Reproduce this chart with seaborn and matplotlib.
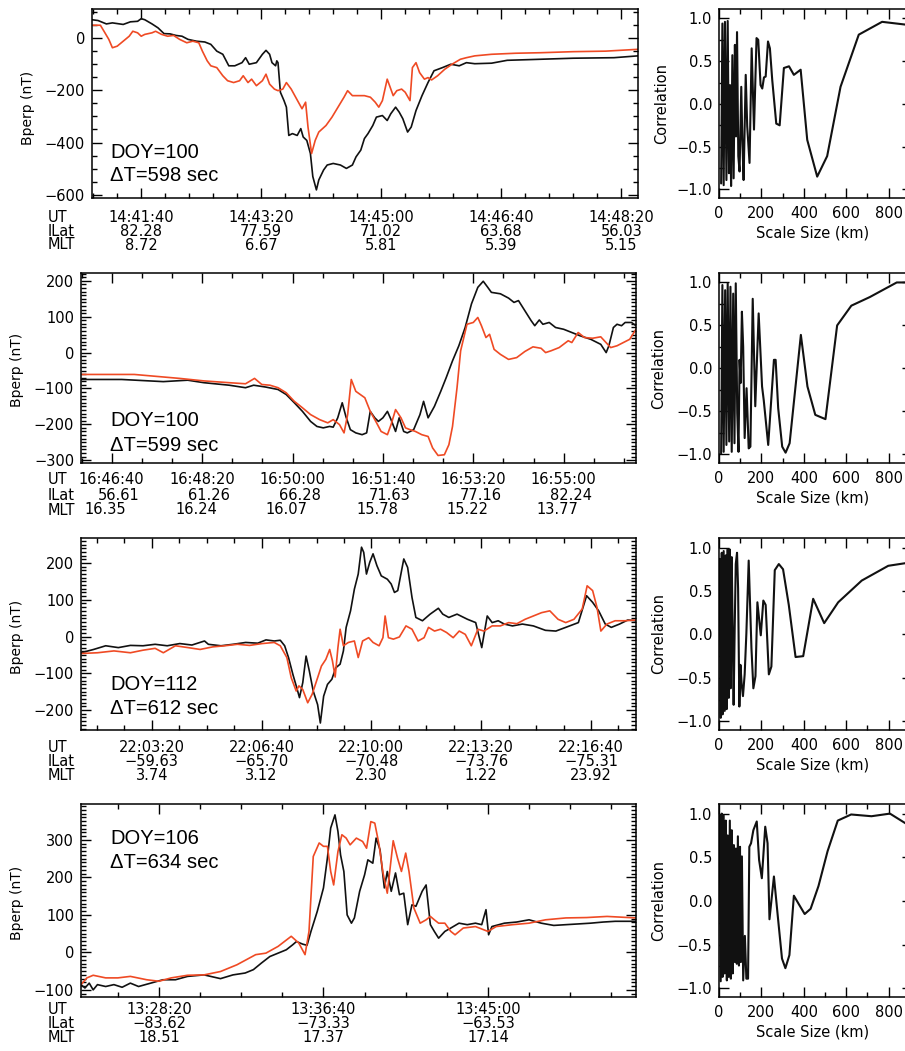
import numpy as np
import pandas as pd
import matplotlib
matplotlib.use("Agg")
import matplotlib.pyplot as plt
import matplotlib.transforms as mtransforms
from matplotlib.ticker import MultipleLocator
import seaborn as sns

# ---------------- data ----------------
# panel 1: seconds from 14:41:40
p1_black_t = [-41, -36, -29, -24, -15, -9, -3, 0, 3, 9, 14, 19, 24, 29, 34, 39, 46, 53, 58, 63,
              68, 73, 78, 84, 87, 90, 96, 101, 104, 107, 109, 112, 113, 114, 116, 119, 121, 123, 126, 130,
              133, 135, 138, 141, 143, 146, 148, 152, 155, 160, 166, 171, 176, 179, 183, 186, 189, 193, 196, 201,
              205, 208, 212, 215, 218, 222, 225, 229, 234, 239, 244, 251, 258, 265, 271, 278, 292, 305, 326, 360,
              394, 414]
p1_black_b = [69, 66, 53, 57, 51, 61, 63, 73, 69, 53, 38, 16, 15, 9, 6, -6, -13, -16, -25, -51,
              -63, -107, -107, -95, -76, -101, -95, -63, -48, -63, -95, -107, -88, -95, -208, -240, -265, -373, -366, -373,
              -347, -379, -392, -442, -530, -581, -543, -505, -486, -480, -486, -499, -486, -455, -429, -385, -366, -335, -303, -297,
              -316, -290, -265, -284, -309, -360, -341, -278, -221, -171, -126, -114, -101, -107, -95, -99, -97, -86, -83, -78,
              -76, -69]
p1_red_t = [-41, -34, -31, -27, -24, -20, -15, -10, -7, -3, 0, 3, 9, 12, 17, 22, 27, 32, 38, 43,
            48, 51, 55, 58, 63, 68, 72, 77, 82, 85, 89, 92, 96, 101, 104, 107, 111, 114, 118, 121,
            125, 128, 131, 134, 137, 139, 142, 145, 148, 154, 159, 164, 169, 172, 176, 181, 186, 191, 195, 198,
            201, 205, 207, 210, 213, 217, 220, 224, 226, 229, 232, 236, 239, 242, 247, 253, 259, 266, 271, 278,
            292, 312, 333, 360, 387, 414]
p1_red_b = [48, 48, 25, -6, -38, -32, -13, 6, 25, 19, 6, 13, 19, 25, 13, 6, 9, -6, -19, -13,
            -19, -51, -88, -107, -114, -145, -164, -171, -164, -145, -171, -158, -183, -164, -139, -177, -196, -202, -196, -171,
            -196, -221, -246, -271, -246, -341, -442, -392, -360, -335, -303, -265, -227, -202, -221, -221, -221, -227, -246, -265,
            -240, -158, -183, -221, -202, -196, -208, -240, -114, -95, -133, -158, -152, -161, -145, -120, -101, -82, -76, -69,
            -63, -59, -57, -53, -51, -44]

# panel 2: seconds from 16:46:40
p2_black_t = [-34, 11, 57, 84, 102, 130, 148, 157, 170, 184, 193, 202, 211, 220, 227, 234, 241, 245, 250, 255,
              259, 264, 270, 277, 282, 286, 291, 295, 300, 305, 309, 314, 318, 323, 327, 334, 341, 345, 350, 357,
              364, 370, 377, 384, 391, 398, 405, 411, 416, 420, 430, 439, 445, 450, 457, 464, 468, 473, 477, 484,
              491, 500, 509, 518, 530, 541, 547, 550, 555, 559, 564, 568, 575, 580]
p2_black_b = [-75, -75, -81, -77, -84, -91, -98, -91, -96, -103, -117, -140, -164, -192, -206, -210, -206, -208, -182, -140,
              -178, -215, -224, -229, -224, -164, -182, -192, -182, -164, -187, -220, -182, -220, -224, -215, -173, -136, -182, -150,
              -108, -70, -23, 19, 70, 136, 182, 199, 182, 168, 164, 152, 140, 145, 117, 89, 75, 91, 79, 84,
              70, 65, 56, 47, 37, 23, 0, 19, 70, 79, 75, 84, 84, 75]
p2_red_t = [-34, 25, 75, 102, 130, 148, 158, 166, 175, 184, 193, 202, 211, 220, 230, 239, 245, 252, 257, 261,
            265, 270, 275, 280, 286, 293, 298, 305, 309, 314, 320, 325, 330, 336, 343, 350, 355, 361, 368, 373,
            377, 382, 386, 393, 400, 405, 409, 414, 418, 423, 430, 439, 448, 457, 466, 475, 480, 486, 495, 505,
            509, 516, 523, 532, 541, 545, 552, 559, 566, 573, 580]
p2_red_b = [-61, -61, -72, -79, -84, -87, -72, -89, -91, -98, -112, -136, -154, -173, -187, -196, -187, -201, -224, -173,
            -75, -108, -117, -126, -164, -196, -220, -229, -201, -159, -182, -210, -215, -220, -229, -234, -266, -287, -285, -257,
            -206, -98, 5, 79, 84, 98, 75, 42, 51, 9, -5, -19, -14, 3, 16, 12, 0, 5, 14, 33,
            28, 56, 42, 40, 44, 33, 14, 19, 28, 37, 65]

# panel 3: seconds from 22:03:20
p3_black_t = [-129, -106, -84, -61, -39, -16, 6, 28, 51, 73, 96, 103, 126, 148, 171, 193, 208, 223, 234, 242,
              249, 257, 264, 269, 275, 281, 287, 294, 302, 307, 313, 320, 328, 335, 343, 349, 354, 362, 369, 376,
              382, 386, 391, 397, 403, 410, 418, 429, 436, 442, 448, 459, 466, 474, 481, 493, 507, 522, 530, 541,
              556, 575, 590, 601, 611, 620, 631, 642, 657, 675, 695, 717, 736, 754, 777, 792, 803, 814, 826, 837,
              852, 867, 882]
p3_black_b = [-44, -35, -25, -30, -24, -25, -21, -25, -19, -23, -12, -21, -25, -21, -16, -18, -9, -12, -10, -25,
              -57, -103, -139, -166, -125, -53, -94, -148, -185, -235, -162, -130, -116, -85, -75, -39, 25, 70, 129, 170,
              243, 229, 170, 202, 225, 193, 165, 156, 143, 120, 125, 211, 188, 106, 52, 43, 61, 77, 61, 52,
              61, 47, 38, -30, 56, 38, 43, 34, 29, 34, 29, 17, 15, 25, 38, 111, 93, 70, 34, 25,
              34, 45, 43]
p3_red_t = [-129, -99, -69, -39, -16, 6, 21, 43, 66, 88, 111, 133, 156, 178, 201, 223, 234, 246, 254, 263,
            268, 275, 284, 292, 302, 309, 317, 324, 329, 334, 339, 343, 349, 358, 369, 376, 384, 395, 403, 414,
            421, 425, 431, 440, 451, 463, 474, 485, 496, 504, 515, 526, 537, 549, 560, 571, 582, 594, 605, 620,
            635, 650, 665, 680, 695, 710, 725, 740, 754, 769, 784, 793, 803, 811, 818, 829, 844, 862, 882]
p3_red_b = [-46, -44, -39, -44, -37, -32, -44, -25, -30, -35, -28, -25, -21, -24, -19, -16, -25, -57, -112, -148,
            -134, -144, -180, -157, -112, -80, -62, -35, -66, -110, -30, 20, -25, -16, -12, -57, -12, -3, -16, -25,
            -3, 56, -3, -7, -1, 29, 20, -12, -3, 25, 15, 20, 11, -3, 15, 6, -25, 20, 15, 29,
            29, 38, 35, 47, 56, 65, 70, 47, 38, 47, 75, 138, 125, 79, 15, 34, 43, 43, 45]

# panel 4: seconds from 13:28:20
p4_black_t = [-237, -225, -212, -200, -187, -162, -137, -112, -87, -62, -25, 12, 50, 87, 137, 187, 225, 262, 287, 312,
              337, 362, 387, 406, 418, 437, 450, 462, 481, 500, 512, 522, 535, 544, 552, 562, 572, 585, 594, 610,
              625, 635, 650, 660, 672, 685, 694, 706, 719, 731, 744, 756, 769, 781, 800, 812, 825, 837, 850, 869,
              887, 912, 937, 962, 981, 994, 1002, 1012, 1050, 1087, 1125, 1162, 1200, 1237, 1275, 1312, 1350, 1387, 1450]
p4_black_b = [-86, -95, -82, -100, -86, -91, -86, -93, -82, -91, -82, -73, -73, -64, -60, -70, -60, -55, -46, -28,
              -11, -2, 7, 20, 29, 22, 19, 56, 109, 172, 252, 332, 367, 323, 260, 216, 100, 78, 92, 163,
              207, 247, 238, 305, 274, 172, 216, 163, 212, 154, 158, 74, 127, 123, 163, 180, 74, 56, 38, 56,
              65, 78, 74, 78, 74, 114, 47, 69, 78, 81, 87, 78, 72, 74, 76, 78, 81, 83, 83]
p4_red_t = [-237, -219, -200, -162, -125, -87, -37, 0, 37, 87, 137, 187, 237, 275, 294, 325, 362, 402, 425, 444,
            456, 469, 487, 500, 512, 522, 531, 544, 556, 569, 581, 600, 619, 631, 644, 656, 669, 681, 694, 712,
            725, 737, 750, 760, 775, 794, 812, 825, 837, 850, 869, 887, 900, 925, 962, 1000, 1025, 1075, 1125, 1175,
            1237, 1300, 1362, 1450]
p4_red_b = [-86, -68, -61, -68, -68, -64, -73, -77, -68, -61, -60, -51, -33, -15, -6, -2, 16, 43, 25, -6,
            56, 256, 292, 283, 283, 216, 180, 269, 314, 305, 287, 305, 296, 278, 349, 345, 287, 212, 158, 298,
            252, 216, 265, 216, 118, 78, 87, 96, 87, 78, 78, 56, 47, 65, 69, 56, 69, 74, 78, 87,
            92, 93, 96, 92]

# correlation vs scale size (km)
r1_km = [10, 16, 22, 28, 35, 41, 47, 52, 57, 63, 69, 75, 80, 85, 91, 97, 105, 110, 116, 126, 133,
         144, 154, 165, 177, 185, 196, 204, 212, 220, 231, 240, 251, 270, 286, 306, 330, 353, 385, 416, 463,
         510, 573, 659, 769, 871, 905]
r1_c = [-0.93, 0.94, -0.95, 0.96, -0.89, 0.97, -0.81, 0.22, -0.96, 0.57, -0.87, 0.69, -0.38, 0.84, -0.61, -0.79, 0.20, -0.42, -0.89, 0.34, -0.26,
        -0.69, 0.65, -0.30, 0.77, 0.75, 0.22, 0.18, 0.31, 0.32, 0.73, 0.65, 0.28, -0.23, -0.25, 0.42, 0.44, 0.34, 0.40, -0.42, -0.85,
        -0.61, 0.20, 0.81, 0.96, 0.93, 0.92]
r2_km = [10, 16, 22, 29, 35, 41, 48, 54, 60, 67, 73, 79, 86, 92, 97, 102, 108, 114, 121, 130,
         140, 148, 159, 171, 187, 203, 211, 232, 259, 267, 279, 298, 314, 333, 386, 417, 454, 502, 557, 624,
         711, 838, 905]
r2_c = [-0.99, 0.97, -0.97, 0.91, -0.89, 0.99, -0.85, 0.95, -0.97, 0.87, -0.87, 0.99, -0.52, -0.97, 0.10, -0.17, 0.66, 0.25, -0.81, -0.23,
        -0.93, -0.91, 0.81, -0.44, 0.64, -0.21, -0.37, -0.89, 0.10, 0.10, -0.46, -0.91, -0.98, -0.87, 0.39, -0.21, -0.54, -0.59, 0.50, 0.73,
        0.83, 1.0, 1.0]
r3_km = [3, 8, 13, 17, 22, 27, 32, 36, 41, 46, 50, 55, 60, 65, 69, 74, 79, 85, 90, 96,
         101, 107, 113, 121, 129, 140, 153, 162, 172, 181, 197, 209, 220, 235, 247, 263, 282, 302, 329, 361,
         397, 444, 496, 562, 673, 798, 905]
r3_c = [0.87, -0.96, 0.94, -0.92, 0.96, -0.88, 0.91, -0.86, 0.98, -0.73, 0.98, -0.62, 0.89, -0.08, -0.81, 0.07, 0.81, 0.94, 0.53, -0.83,
        -0.35, -0.58, -0.71, -0.46, 0.01, 0.85, -0.16, -0.62, -0.48, 0.37, -0.01, 0.39, 0.34, -0.46, -0.37, 0.74, 0.81, 0.75, 0.34, -0.26,
        -0.25, 0.41, 0.13, 0.37, 0.62, 0.79, 0.83]
r4_km = [3, 8, 13, 17, 22, 27, 32, 37, 41, 46, 51, 56, 60, 65, 70, 75, 80, 84, 89, 94,
         99, 103, 108, 114, 122, 129, 137, 143, 151, 162, 178, 189, 202, 218, 229, 238, 259, 277, 297, 313,
         332, 353, 377, 404, 432, 469, 512, 560, 623, 719, 806, 905]
r4_c = [0.98, -0.92, 1.0, -0.87, 0.98, -0.83, 0.92, -0.91, 0.75, -0.87, 0.92, -0.89, 0.81, -0.83, 0.64, -0.70, 0.60, -0.72, 0.74, -0.74,
        0.62, -0.70, 0.51, -0.91, -0.40, -0.89, -0.89, 0.62, 0.66, 0.81, 0.91, 0.47, 0.26, 0.85, 0.66, -0.21, 0.28, -0.17, -0.66, -0.77,
        -0.62, 0.06, -0.04, -0.15, -0.09, 0.17, 0.57, 0.92, 0.99, 0.97, 1.0, 0.85]

# tick labels
p1_ut = ["14:41:40", "14:43:20", "14:45:00", "14:46:40", "14:48:20"]
p1_ilat = ["82.28", "77.59", "71.02", "63.68", "56.03"]
p1_mlt = ["8.72", "6.67", "5.81", "5.39", "5.15"]
p2_ut = ["16:46:40", "16:48:20", "16:50:00", "16:51:40", "16:53:20", "16:55:00"]
p2_ilat = ["56.61", "61.26", "66.28", "71.63", "77.16", "82.24"]
p2_mlt = ["16.35", "16.24", "16.07", "15.78", "15.22", "13.77"]
p3_ut = ["22:03:20", "22:06:40", "22:10:00", "22:13:20", "22:16:40"]
p3_ilat = ["\u221259.63", "\u221265.70", "\u221270.48", "\u221273.76", "\u221275.31"]
p3_mlt = ["3.74", "3.12", "2.30", "1.22", "23.92"]
p4_ut = ["13:28:20", "13:36:40", "13:45:00"]
p4_ilat = ["\u221283.62", "\u221273.33", "\u221263.53"]
p4_mlt = ["18.51", "17.37", "17.14"]

doy = ["DOY=100", "DOY=100", "DOY=112", "DOY=106"]
dt = ["\u0394T=598 sec", "\u0394T=599 sec", "\u0394T=612 sec", "\u0394T=634 sec"]

# ---------------- style ----------------
sns.set_theme(style="ticks", rc={"axes.edgecolor": "black", "text.color": "black",
                                 "xtick.color": "black", "ytick.color": "black",
                                 "axes.linewidth": 1.1})
plt.rcParams["font.family"] = ["DejaVu Sans"]

W, H = 905, 1051
fig = plt.figure(figsize=(W / 100, H / 100), dpi=100)
fig.patch.set_facecolor("white")

def fx(x):
    return x / W

def fy(y):
    return 1 - y / H

BLACK = "#111111"
RED = "#ef4a24"

panels = [
    dict(box=(92, 638, 9, 198), xlim=(-41, 414), ylim=(-612, 110), xmaj=100, xmin=20, ymaj=200, ymin=50,
         bt=p1_black_t, bb=p1_black_b, rt=p1_red_t, rb=p1_red_b, rows=(p1_ut, p1_ilat, p1_mlt),
         dys=(19, 33, 47), dxs=(0, 0, 0), yl=(28, 108), txt=(153, 176),
         rk=r1_km, rc=r1_c, cl=662),
    dict(box=(81, 636, 273, 463), xlim=(-34, 580), ylim=(-308, 222), xmaj=100, xmin=100 / 3, ymaj=100, ymin=10,
         bt=p2_black_t, bb=p2_black_b, rt=p2_red_t, rb=p2_red_b, rows=(p2_ut, p2_ilat, p2_mlt),
         dys=(17, 32, 47), dxs=(0, 7, -6), yl=(17, 370), txt=(421, 445),
         rk=r2_km, rc=r2_c, cl=659),
    dict(box=(81, 636, 538, 730), xlim=(-129, 882), ylim=(-254, 268), xmaj=200, xmin=50, ymaj=100, ymin=10,
         bt=p3_black_t, bb=p3_black_b, rt=p3_red_t, rb=p3_red_b, rows=(p3_ut, p3_ilat, p3_mlt),
         dys=(17, 32, 46), dxs=(0, 0, 0), yl=(17, 637), txt=(685, 708),
         rk=r3_km, rc=r3_c, cl=659),
    dict(box=(81, 636, 804, 997), xlim=(-237, 1450), ylim=(-119, 396), xmaj=500, xmin=125, ymaj=100, ymin=10,
         bt=p4_black_t, bb=p4_black_b, rt=p4_red_t, rb=p4_red_b, rows=(p4_ut, p4_ilat, p4_mlt),
         dys=(13, 27, 41), dxs=(0, 0, 0), yl=(17, 903), txt=(838, 862),
         rk=r4_km, rc=r4_c, cl=659),
]

FS = 10.5

def style_ax(ax):
    ax.tick_params(which="both", direction="in", top=True, right=True, width=1.0,
                   labelsize=FS, colors="black")
    ax.tick_params(which="major", length=7)
    ax.tick_params(which="minor", length=3.5)
    ax.tick_params(axis="y", pad=5)
    ax.tick_params(axis="x", pad=6)
    for s in ax.spines.values():
        s.set_visible(True)
        s.set_linewidth(1.1)
        s.set_color("black")
    ax.set_facecolor("white")
    ax.grid(False)

for i, p in enumerate(panels):
    x0, x1, y0, y1 = p["box"]
    ax = fig.add_axes([fx(x0), fy(y1), (x1 - x0) / W, (y1 - y0) / H])
    dfb = pd.DataFrame({"t": p["bt"], "b": p["bb"]})
    dfr = pd.DataFrame({"t": p["rt"], "b": p["rb"]})
    sns.lineplot(data=dfb, x="t", y="b", ax=ax, color=BLACK, lw=1.2, estimator=None, sort=False)
    sns.lineplot(data=dfr, x="t", y="b", ax=ax, color=RED, lw=1.2, estimator=None, sort=False)
    ax.set(xlabel=None, ylabel=None)
    ax.set_xlim(*p["xlim"])
    ax.set_ylim(*p["ylim"])
    ax.xaxis.set_major_locator(MultipleLocator(p["xmaj"]))
    ax.xaxis.set_minor_locator(MultipleLocator(p["xmin"]))
    ax.yaxis.set_major_locator(MultipleLocator(p["ymaj"]))
    ax.yaxis.set_minor_locator(MultipleLocator(p["ymin"]))
    style_ax(ax)
    ax.set_xticklabels([])

    # UT / ILat / MLT rows under the ticks
    ticks = [k * p["xmaj"] for k in range(len(p["rows"][0]))]
    base = mtransforms.blended_transform_factory(ax.transData, ax.transAxes)
    for row, dy, dx in zip(p["rows"], p["dys"], p["dxs"]):
        tr = mtransforms.offset_copy(base, fig=fig, x=dx, y=-dy, units="dots")
        for t, s in zip(ticks, row):
            ax.text(t, 0, s, transform=tr, ha="center", va="center", fontsize=FS, clip_on=False)
    for name, dy in zip(["UT", "ILat", "MLT"], p["dys"]):
        fig.text(fx(48), fy(y1 + dy), name, ha="left", va="center", fontsize=FS)

    fig.text(fx(p["yl"][0]), fy(p["yl"][1]), "Bperp (nT)", rotation=90,
             ha="center", va="center", fontsize=10)
    fig.text(fx(110), fy(p["txt"][0]), doy[i], ha="left", va="center",
             fontsize=14.5, family=["Liberation Sans", "DejaVu Sans"])
    fig.text(fx(110), fy(p["txt"][1]), dt[i], ha="left", va="center",
             fontsize=14.5, family=["Liberation Sans", "DejaVu Sans"])

    # correlation panel
    axr = fig.add_axes([fx(719), fy(y1), (912 - 719) / W, (y1 - y0) / H])
    dfc = pd.DataFrame({"km": p["rk"], "c": p["rc"]})
    sns.lineplot(data=dfc, x="km", y="c", ax=axr, color=BLACK, lw=1.5, estimator=None, sort=False)
    axr.set(xlabel=None, ylabel=None)
    axr.set_xlim(0, 910)
    axr.set_ylim(-1.1, 1.11)
    axr.xaxis.set_major_locator(MultipleLocator(200))
    axr.xaxis.set_minor_locator(MultipleLocator(100))
    axr.yaxis.set_major_locator(MultipleLocator(0.5))
    axr.yaxis.set_minor_locator(MultipleLocator(0.25))
    style_ax(axr)
    fig.text(fx(p["cl"]), fy((y0 + y1) / 2), "Correlation", rotation=90,
             ha="center", va="center", fontsize=FS)
    fig.text(fx(813), fy(y1 + 35), "Scale Size (km)", ha="center", va="center", fontsize=FS)

fig.savefig("out.png", dpi=100, facecolor="white")
